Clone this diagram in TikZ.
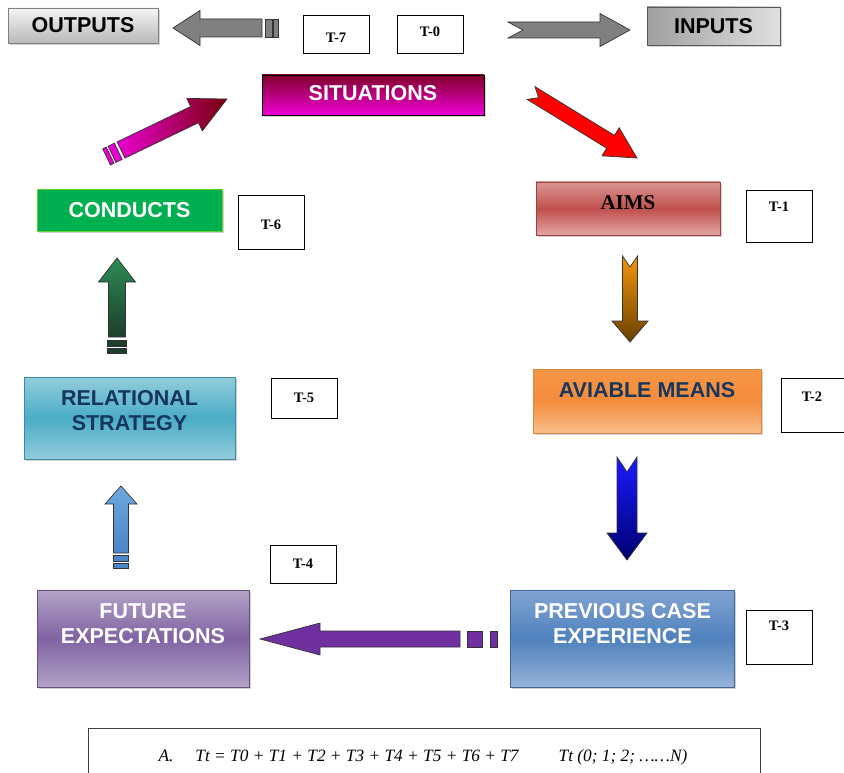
\documentclass[tikz,border=0pt]{standalone}
\usepackage{fontspec}
\setmainfont{Liberation Serif}
\newfontfamily\sansb{Liberation Sans}
\usetikzlibrary{shadows}
\definecolor{sitA}{RGB}{128,0,40}
\definecolor{sitB}{RGB}{240,0,215}
\definecolor{aimA}{RGB}{218,150,148}
\definecolor{aimB}{RGB}{192,80,77}
\definecolor{aimC}{RGB}{224,165,163}
\definecolor{conG}{RGB}{0,176,80}
\definecolor{relA}{RGB}{146,205,220}
\definecolor{relB}{RGB}{75,172,198}
\definecolor{avA}{RGB}{247,150,70}
\definecolor{avB}{RGB}{243,140,60}
\definecolor{avC}{RGB}{250,190,140}
\definecolor{futA}{RGB}{179,162,199}
\definecolor{futB}{RGB}{128,100,162}
\definecolor{preA}{RGB}{130,165,210}
\definecolor{preB}{RGB}{79,129,189}
\definecolor{preC}{RGB}{149,179,215}
\definecolor{navy}{RGB}{23,54,93}
\definecolor{grayA}{RGB}{128,128,128}
\definecolor{magA}{RGB}{232,0,208}
\definecolor{magB}{RGB}{122,0,10}
\definecolor{orA}{RGB}{245,150,10}
\definecolor{orB}{RGB}{107,64,0}
\definecolor{blA}{RGB}{26,26,255}
\definecolor{blB}{RGB}{0,0,112}
\definecolor{grA}{RGB}{46,139,87}
\definecolor{grB}{RGB}{28,63,42}
\definecolor{lbA}{RGB}{110,168,222}
\definecolor{lbB}{RGB}{74,134,200}
\definecolor{purA}{RGB}{112,48,160}
\newcommand\blockarrow[8]{%
  \path (#1); \pgfgetlastxy{\bax}{\bay}%
  \path (#2); \pgfgetlastxy{\bbx}{\bby}%
  \pgfmathsetmacro\baang{atan2(\bby-\bay,\bbx-\bax)}%
  \pgfmathsetmacro\balen{veclen(\bbx-\bax,\bby-\bay)}%
  \begin{scope}[shift={(#1)}, rotate=\baang, x=1pt, y=1pt]
    \path[#3] (0,#4) -- (\balen-#6,#4) -- (\balen-#6,#5) -- (\balen,0) -- (\balen-#6,-#5) -- (\balen-#6,-#4) -- (0,-#4) -- (#7,0) -- cycle;
    #8
  \end{scope}}
\begin{document}
\begin{tikzpicture}[x=1pt,y=-1pt,
  box/.style={draw, line width=0.6pt, inner sep=0pt,
    drop shadow={shadow xshift=1.5pt, shadow yshift=-2pt, opacity=0.35}},
  tbox/.style={draw=black, line width=0.8pt, fill=white, inner sep=0pt},
  tlab/.style={font=\bfseries\fontsize{14.5}{16}\selectfont, inner sep=0pt},
  blab/.style={font=\sansb\bfseries\fontsize{21.5}{25}\selectfont, inner sep=0pt, align=center},
  arr/.style={draw=black!80, line width=0.7pt}]
\useasboundingbox (0,0) rectangle (844,773);

% ---- top row
\node[box, draw=gray, top color=gray!8, bottom color=gray!55, minimum width=150pt, minimum height=35pt] (outputs) at (83,25.5) {};
\node[blab] at (outputs.center) {OUTPUTS};
\node[box, draw=gray!70!black, left color=gray!75, right color=gray!25, minimum width=133pt, minimum height=38pt] (inputs) at (713.5,26) {};
\node[blab] at (inputs.center) {INPUTS};
\node[tbox, minimum width=66pt, minimum height=38pt] (t7) at (336,34) {};
\node[tlab] at (336,38) {T-7};
\node[tbox, minimum width=66pt, minimum height=38pt] (t0) at (430,34) {};
\node[tlab] at (430,32) {T-0};

\coordinate (g1s) at (262,28); \coordinate (g1e) at (173,28);
\blockarrow{g1s}{g1e}{arr, fill=grayA}{9}{17.5}{27}{0}{%
  \path[arr, fill=grayA] (-3,-9) rectangle (-10,9);
  \path[arr, fill=grayA] (-11,-9) rectangle (-16,9);}
\coordinate (g2s) at (508,30); \coordinate (g2e) at (630,30);
\blockarrow{g2s}{g2e}{arr, fill=grayA}{8}{16.5}{30}{15}{}

% ---- situations
\node[box, draw=black, top color=sitA, bottom color=sitB, minimum width=222pt, minimum height=40pt] (sit) at (373,95) {};
\node[blab, text=white] at (373,93) {SITUATIONS};

\coordinate (m1s) at (121,150); \coordinate (m1e) at (227,99);
\blockarrow{m1s}{m1e}{arr, left color=magA, right color=magB}{9}{18}{36}{0}{%
  \path[arr, fill=magA] (-3,-9) rectangle (-10,9);
  \path[arr, fill=magA] (-12,-9) rectangle (-16,9);}

\coordinate (r1s) at (531,93); \coordinate (r1e) at (637,158);
\blockarrow{r1s}{r1e}{arr, fill=red}{7.5}{16.5}{31}{9}{}

% ---- aims / conducts
\node[box, draw=aimB!80!black, top color=aimA, bottom color=aimC, middle color=aimB, minimum width=184pt, minimum height=53pt] (aims) at (628,208.5) {};
\node[font=\bfseries\fontsize{21}{24}\selectfont, inner sep=0pt] at (628,203) {AIMS};
\node[tbox, minimum width=66pt, minimum height=52pt] (t1) at (779,216) {};
\node[tlab] at (779,207) {T-1};

\node[box, draw=conG!60!yellow, fill=conG, minimum width=185pt, minimum height=42pt] (cond) at (129.5,210) {};
\node[blab, text=white] at (129.5,210) {CONDUCTS};
\node[tbox, minimum width=66pt, minimum height=54pt] (t6) at (271,222) {};
\node[tlab] at (271,225) {T-6};

% ---- vertical arrows upper
\coordinate (o1s) at (630,256); \coordinate (o1e) at (630,342);
\blockarrow{o1s}{o1e}{arr, top color=orA, bottom color=orB}{7.5}{18}{21}{11}{}

\coordinate (gr1s) at (117,337); \coordinate (gr1e) at (117,258);
\blockarrow{gr1s}{gr1e}{arr, top color=grA, bottom color=grB}{8.5}{18.5}{24}{0}{%
  \path[arr, fill=grB] (-3,-9.5) rectangle (-9,9.5);
  \path[arr, fill=grB] (-11,-9.5) rectangle (-16,9.5);}

% ---- relational / aviable
\node[box, draw=relB!80!black, top color=relA, bottom color=relA, middle color=relB, minimum width=211pt, minimum height=82pt] (rel) at (129.5,418) {};
\node[blab, text=navy] at (129.5,410.5) {RELATIONAL\\STRATEGY};
\node[tbox, minimum width=66pt, minimum height=40pt] (t5) at (304,398) {};
\node[tlab] at (304,398) {T-5};

\node[box, draw=avA!90!black, top color=avA, bottom color=avC, middle color=avB, minimum width=228pt, minimum height=64pt] (av) at (647,401) {};
\node[blab, text=navy] at (647,390) {AVIABLE MEANS};
\node[tbox, minimum width=66pt, minimum height=54pt] (t2) at (814,405) {};
\node[tlab] at (812,397) {T-2};

% ---- vertical arrows lower
\coordinate (b1s) at (627,457); \coordinate (b1e) at (627,560);
\blockarrow{b1s}{b1e}{arr, top color=blA, bottom color=blB}{10}{20}{27}{15}{}

\coordinate (lb1s) at (121,553); \coordinate (lb1e) at (121,486);
\blockarrow{lb1s}{lb1e}{arr, top color=lbA, bottom color=lbB}{7.5}{16}{18}{0}{%
  \path[arr, fill=lbB] (-2,-7.5) rectangle (-8,7.5);
  \path[arr, fill=lbB] (-10,-7.5) rectangle (-15,7.5);}

\node[tbox, minimum width=66pt, minimum height=38pt] (t4) at (303,564) {};
\node[tlab] at (303,564) {T-4};

% ---- future / previous
\node[box, draw=futB!80!black, top color=futA, bottom color=futA, middle color=futB, minimum width=212pt, minimum height=97pt] (fut) at (143,638.5) {};
\node[blab, text=white] at (143,623.5) {FUTURE\\EXPECTATIONS};
\node[box, draw=preB!80!black, top color=preA, bottom color=preC, middle color=preB, minimum width=224pt, minimum height=97pt] (prev) at (622.5,638.5) {};
\node[blab, text=white] at (622.5,623.5) {PREVIOUS CASE\\EXPERIENCE};
\node[tbox, minimum width=66pt, minimum height=54pt] (t3) at (779,637) {};
\node[tlab] at (779,626) {T-3};

\coordinate (p1s) at (460,639); \coordinate (p1e) at (260,639);
\blockarrow{p1s}{p1e}{arr, fill=purA}{8}{16}{60}{0}{%
  \path[arr, fill=purA] (-7,-8) rectangle (-22,8);
  \path[arr, fill=purA] (-30,-8) rectangle (-37,8);}

% ---- formula
\node[draw=black!75, line width=1pt, minimum width=672pt, minimum height=70pt, anchor=north west, inner sep=0pt] (fbox) at (88,728) {};
\node[font=\itshape\fontsize{17.3}{20}\selectfont, inner sep=0pt] at (423,757) {A.\hspace{22pt}Tt = T0 + T1 + T2 + T3 + T4 + T5 + T6 + T7\hspace{40pt}Tt (0; 1; 2; ……N)};
\end{tikzpicture}
\end{document}
